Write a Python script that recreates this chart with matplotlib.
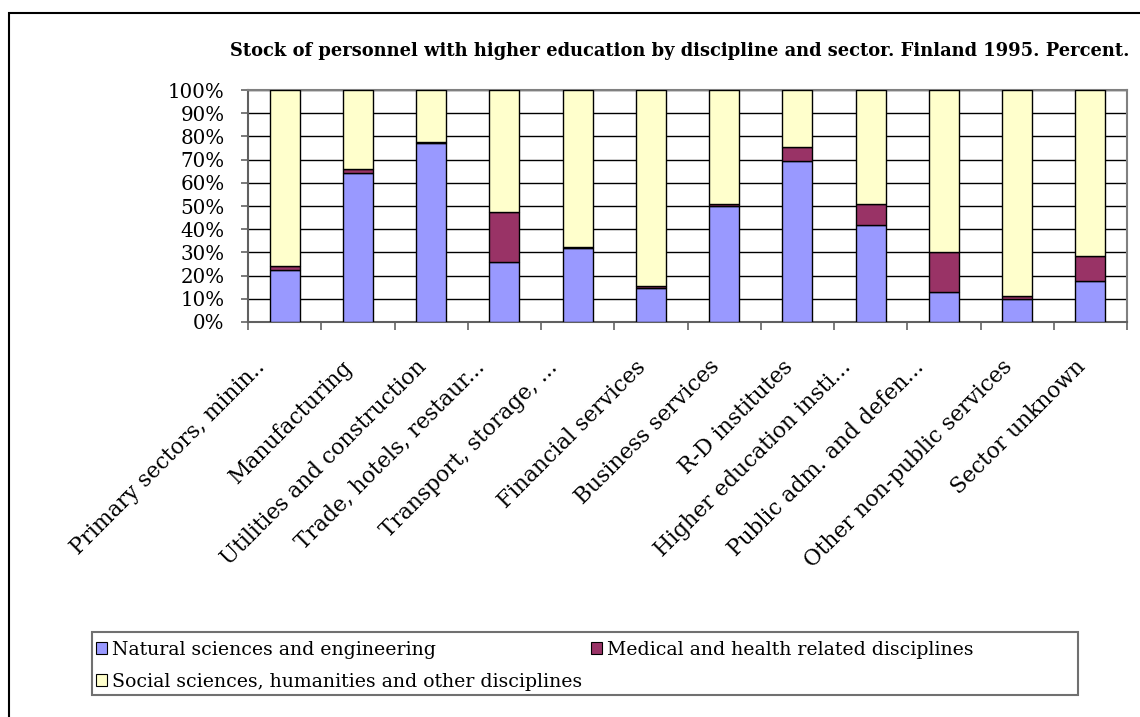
import matplotlib
matplotlib.use('Agg')
import matplotlib.pyplot as plt
import matplotlib.transforms as mtransforms
from matplotlib.patches import Rectangle, Patch
import numpy as np

# Finland 1995, share of personnel with higher education (percent)
sectors = ['Primary sectors, minin..', 'Manufacturing', 'Utilities and construction',
           'Trade, hotels, restaur...', 'Transport, storage, ...', 'Financial services',
           'Business services', 'R-D institutes', 'Higher education insti...',
           'Public adm. and defen...', 'Other non-public services', 'Sector unknown']
natural = [22.5, 64.1, 77.0, 25.8, 31.9, 14.6, 49.8, 69.6, 41.9, 12.9, 9.9, 17.5]
medical = [1.7, 1.9, 0.5, 21.5, 0.4, 0.8, 1.0, 5.7, 9.0, 17.1, 1.4, 11.1]
social = [100 - n - m for n, m in zip(natural, medical)]

labels = ['Natural sciences and engineering',
          'Medical and health related disciplines',
          'Social sciences, humanities and other disciplines']
colors = ['#9999FF', '#993366', '#FFFFCC']

plt.rcParams['font.family'] = 'DejaVu Serif'

W, H = 1140, 717
fig = plt.figure(figsize=(W / 100, H / 100), dpi=100)
ax = fig.add_axes([248 / W, 1 - 322 / H, (1127 - 248) / W, (322 - 90) / H])

x = np.arange(len(sectors))
bw = 0.41
bottom = np.zeros(len(sectors))
for vals, col in zip([natural, medical, social], colors):
    ax.bar(x, vals, bw, bottom=bottom, color=col, edgecolor='black', linewidth=1, zorder=3)
    bottom += np.array(vals)

ax.set_xlim(-0.5, len(sectors) - 0.5)
ax.set_ylim(0, 100)
ax.set_yticks(np.arange(0, 101, 10))
ax.set_yticklabels([f'{v}%' for v in range(0, 101, 10)], fontsize=14.3)
ax.yaxis.grid(True, color='black', linewidth=1, zorder=0)
ax.set_axisbelow(True)

# category ticks sit between the bars, labels under the bars
ax.set_xticks(x)
ax.set_xticklabels(sectors, fontsize=15.7, rotation=45, ha='right', va='center',
                   rotation_mode='anchor')
ax.tick_params(axis='x', which='major', length=0, pad=30)
for lab in ax.get_xticklabels():
    # truncated names sit a little further left
    dx = -23 if lab.get_text().endswith('.') else -8
    shift = mtransforms.ScaledTranslation(dx / 100, 0, fig.dpi_scale_trans)
    lab.set_transform(lab.get_transform() + shift)
ax.set_xticks(np.arange(-0.5, len(sectors), 1), minor=True)
ax.tick_params(axis='x', which='minor', length=6, width=1.3, color='#707070', direction='out')
ax.tick_params(axis='y', length=5, width=1.3, color='#707070', direction='out', pad=12)

for s in ax.spines.values():
    s.set_color('#808080')
    s.set_linewidth(1.5)
ax.spines['left'].set_color('#606060')
ax.spines['bottom'].set_color('#606060')

fig.text(1130 / W, 1 - 51 / H,
         'Stock of personnel with higher education by discipline and sector. Finland 1995. Percent.',
         ha='right', va='center', fontsize=12.9, fontweight='bold')

# legend: two frameless legends inside one drawn box
handles = [Patch(facecolor=c, edgecolor='black', linewidth=0.8) for c in colors]
lkw = dict(frameon=False, fontsize=13.6, handlelength=0.58, handleheight=0.58,
           handletextpad=0.25, labelspacing=0.72, borderpad=0, borderaxespad=0)
leg1 = fig.legend([handles[0], handles[2]], [labels[0], labels[2]], loc='upper left',
                  bbox_to_anchor=(96 / W, 1 - 641 / H), **lkw)
leg2 = fig.legend([handles[1]], [labels[1]], loc='upper left',
                  bbox_to_anchor=(591 / W, 1 - 641 / H), **lkw)
fig.add_artist(Rectangle((92 / W, 1 - 695 / H), (1078 - 92) / W, (695 - 632) / H,
                         transform=fig.transFigure, fill=False, edgecolor='#707070',
                         linewidth=1.5))

# outer chart border (runs off the right and bottom edges)
fig.add_artist(Rectangle((8.5 / W, -0.2), 1.5, 1.2 - 12.5 / H, transform=fig.transFigure,
                         fill=False, edgecolor='black', linewidth=1.5))

fig.savefig('out.png', dpi=100)
